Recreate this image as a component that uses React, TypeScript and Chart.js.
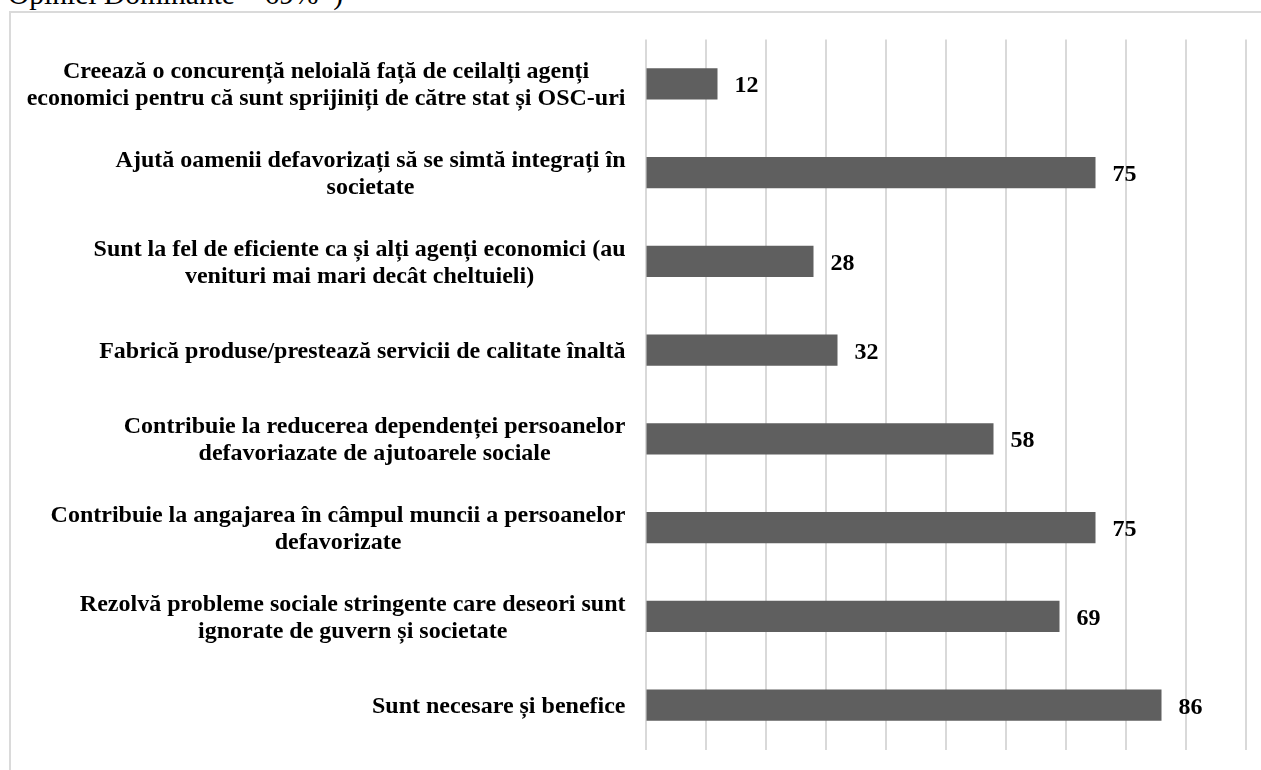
import React, { useEffect, useRef } from "react";
import { Chart, registerables } from "chart.js";

Chart.register(...registerables);

const categories: string[][] = [
  ["Creează o concurență neloială față de ceilalți agenți", "economici pentru că sunt sprijiniți de către stat și OSC-uri"],
  ["Ajută oamenii defavorizați să se simtă integrați în", "societate"],
  ["Sunt la fel de eficiente ca și alți agenți economici (au", "venituri mai mari decât cheltuieli)"],
  ["Fabrică produse/prestează servicii de calitate înaltă"],
  ["Contribuie la reducerea dependenței persoanelor", "defavoriazate de ajutoarele sociale"],
  ["Contribuie la angajarea în câmpul muncii a persoanelor", "defavorizate"],
  ["Rezolvă probleme sociale stringente care deseori sunt", "ignorate de guvern și societate"],
  ["Sunt necesare și benefice"],
];

const values: number[] = [12, 75, 28, 32, 58, 75, 69, 86];

const titleText = "Opiniei Dominante – 69%*)";

const FONT = '"Liberation Serif", "Times New Roman", serif';

const labelsPlugin = {
  id: "customLabels",
  afterDraw(chart: any) {
    const ctx = chart.ctx as CanvasRenderingContext2D;
    const yScale = chart.scales.y;
    ctx.save();
    ctx.fillStyle = "#000";
    ctx.font = `bold 24px ${FONT}`;
    ctx.textAlign = "center";
    ctx.textBaseline = "alphabetic";
    const rightEdge = chart.chartArea.left - 20;
    const lineH = 27;
    categories.forEach((lines, i) => {
      const yc = yScale.getPixelForValue(i);
      const w = Math.max(...lines.map((l) => ctx.measureText(l).width));
      const cx = rightEdge - w / 2;
      lines.forEach((l, j) => {
        const y = yc + 8 + (j - (lines.length - 1) / 2) * lineH;
        ctx.fillText(l, cx, y);
      });
    });
    // value labels
    const meta = chart.getDatasetMeta(0);
    ctx.textAlign = "left";
    meta.data.forEach((bar: any, i: number) => {
      ctx.fillText(String(values[i]), bar.x + 17, bar.y + 8.5);
    });
    ctx.restore();
  },
};

export default function App() {
  const ref = useRef<HTMLCanvasElement | null>(null);
  useEffect(() => {
    if (!ref.current) return;
    const chart = new Chart(ref.current, {
      type: "bar",
      data: {
        labels: categories.map((c) => c.join(" ")),
        datasets: [
          {
            data: values,
            backgroundColor: "#5f5f5f",
            borderWidth: 0,
            categoryPercentage: 1,
            barPercentage: 0.35,
          },
        ],
      },
      options: {
        indexAxis: "y",
        animation: false,
        responsive: false,
        devicePixelRatio: 1,
        layout: { padding: { left: 645.5, right: 15.5, top: 39.5, bottom: 20.5 } },
        plugins: { legend: { display: false }, tooltip: { enabled: false } },
        scales: {
          x: {
            min: 0,
            max: 100,
            ticks: { display: false, stepSize: 10 },
            grid: { color: "#d9d9d9", lineWidth: 2, drawTicks: false },
            border: { display: false },
            afterFit: (s: any) => {
              s.height = 0;
            },
          },
          y: {
            display: false,
          },
        },
      },
      plugins: [labelsPlugin],
    });
    return () => chart.destroy();
  }, []);

  return (
    <div style={{ position: "fixed", left: 0, top: 0, width: 1261, height: 770, overflow: "hidden", background: "#fff" }}>
      <div
        style={{
          position: "absolute",
          left: 8,
          top: -20,
          fontFamily: FONT,
          fontSize: 29.5,
          lineHeight: 1,
          whiteSpace: "nowrap",
          color: "#000",
        }}
      >
        {titleText}
      </div>
      <div
        style={{
          position: "absolute",
          left: 9,
          top: 11,
          width: 1400,
          height: 900,
          border: "2px solid #dadada",
          boxSizing: "border-box",
        }}
      />
      <canvas ref={ref} width={1261} height={770} style={{ position: "absolute", left: 0, top: 0, width: 1261, height: 770 }} />
    </div>
  );
}
